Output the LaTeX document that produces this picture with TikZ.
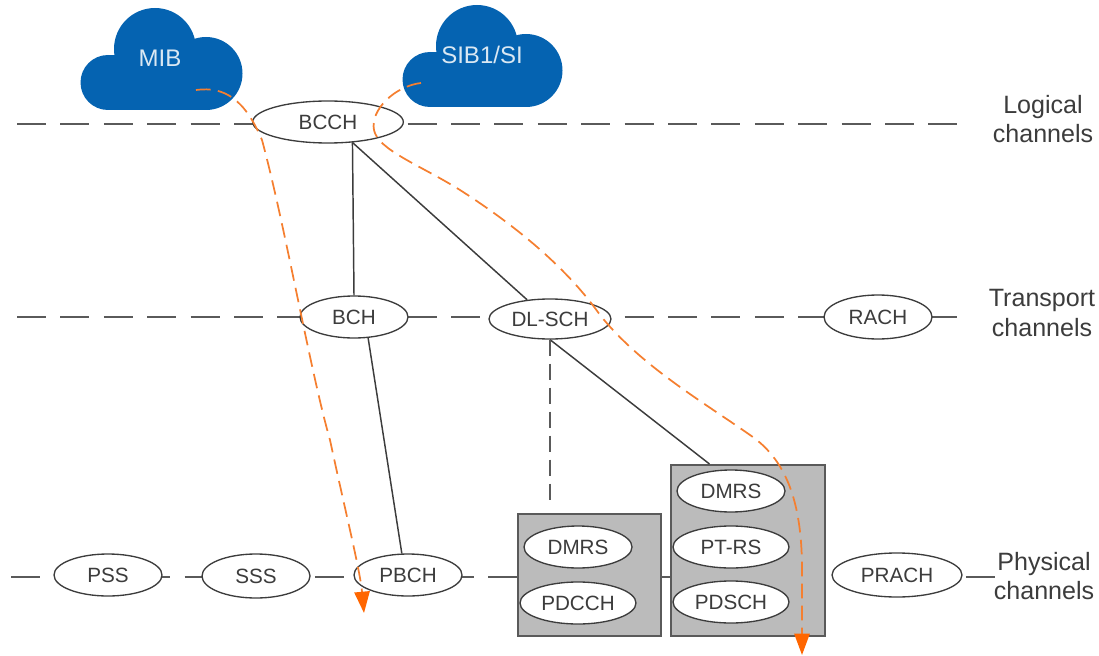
\documentclass[tikz,border=0pt]{standalone}
\usepackage{fontspec}
\setmainfont{Liberation Sans}
\usetikzlibrary{shapes.geometric,arrows.meta}
\definecolor{cloudblue}{HTML}{0563B1}
\definecolor{flow}{HTML}{F57F30}
\definecolor{tip}{HTML}{FF6600}
\definecolor{linegray}{HTML}{5A5A5A}
\definecolor{boxgray}{HTML}{BBBBBB}
\definecolor{inkgray}{HTML}{3C3C3C}
\tikzset{
  chan/.style={draw=inkgray,fill=white,ellipse,line width=1pt,inner sep=0pt,text=inkgray,font=\fontsize{15.5}{18}\selectfont},
  bus/.style={draw=linegray,line width=1.8pt,dash pattern=on 21.7pt off 10.85pt},
  stack/.style={draw=linegray,fill=boxgray,line width=1.5pt,inner sep=0pt,anchor=north west},
  link/.style={draw=inkgray,line width=1.1pt},
  linkd/.style={draw=linegray,line width=2.2pt,dash pattern=on 12pt off 6pt},
  flowline/.style={draw=flow,line width=1.3pt,dash pattern=on 11pt off 5.5pt,-{Triangle[length=16pt,width=11.5pt,color=tip]}},
  lab/.style={align=center,text=inkgray,font=\fontsize{18.8}{22}\selectfont,inner sep=0pt},
  cloudtext/.style={text=white!85!cloudblue,font=\fontsize{18}{20}\selectfont,inner sep=0pt},
  cloudfill/.style={fill=cloudblue,draw=none}
}
\begin{document}
\begin{tikzpicture}[x=0.75pt,y=-0.75pt]
\useasboundingbox (0,0) rectangle (1099,656);
% clouds
\fill[cloudfill] (108,82.5) circle[radius=27.5];
\fill[cloudfill] (155,49) circle[radius=41];
\fill[cloudfill] (206,73.5) circle[radius=36.5];
\fill[cloudfill] (108,55) rectangle (206,110);
\fill[cloudfill] (430,79.5) circle[radius=27.5];
\fill[cloudfill] (477,46) circle[radius=41];
\fill[cloudfill] (526,70.5) circle[radius=36.5];
\fill[cloudfill] (430,52) rectangle (526,107);
\node[cloudtext] (mib) at (160,58) {MIB};
\node[cloudtext] (sib) at (482,55) {SIB1/SI};
% buses
\coordinate (la) at (17,124); \coordinate (lb) at (958,124);
\coordinate (ta) at (17,317); \coordinate (tb) at (958,317);
\coordinate (pa) at (11,577); \coordinate (pb) at (995,577);
\draw[bus] (la) -- (lb);
\draw[bus] (ta) -- (tb);
\draw[bus] (pa) -- (pb);
% stacks
\node[stack,minimum width=107.25pt,minimum height=91.5pt] (lbox) at (517,513) {};
\node[stack,minimum width=115.5pt,minimum height=128.25pt] (rbox) at (670,464) {};
% channels
\node[chan,minimum width=113pt,minimum height=31.5pt] (bcch) at (328,122) {BCCH};
\node[chan,minimum width=81pt,minimum height=31.5pt] (bch) at (354,317) {BCH};
\node[chan,minimum width=91.5pt,minimum height=30pt] (dlsch) at (550,319) {DL-SCH};
\node[chan,minimum width=81pt,minimum height=33pt] (rach) at (878,317) {RACH};
\node[chan,minimum width=81pt,minimum height=31.5pt] (pss) at (108,575) {PSS};
\node[chan,minimum width=81pt,minimum height=33pt] (sss) at (256,576) {SSS};
\node[chan,minimum width=81pt,minimum height=31.5pt] (pbch) at (408,575) {PBCH};
\node[chan,minimum width=81pt,minimum height=31.5pt] (dmrsa) at (578,547) {DMRS};
\node[chan,minimum width=87pt,minimum height=31.5pt] (pdcch) at (578,603) {PDCCH};
\node[chan,minimum width=81pt,minimum height=31.5pt] (dmrsb) at (731,491) {DMRS};
\node[chan,minimum width=87pt,minimum height=31.5pt] (ptrs) at (731,547) {PT-RS};
\node[chan,minimum width=87pt,minimum height=31.5pt] (pdsch) at (731,602) {PDSCH};
\node[chan,minimum width=97.5pt,minimum height=33pt] (prach) at (897,575) {PRACH};
% connectors
\coordinate (dashend) at (550,505);
\draw[link] (bcch.-40) -- (bch.north);
\draw[link] (bcch.-40) -- (dlsch.140);
\draw[link] (bch.-56) -- (pbch.106);
\draw[link] (dlsch.south) -- (rbox.114.5);
\draw[linkd] (dlsch.south) -- (dashend);
% flows
\draw[flowline] (196,90) .. controls (225,86) and (245,100) .. (262,140) .. controls (285,225) and (310,370) .. (330,440) .. controls (345,510) and (360,570) .. (364,613);
\draw[flowline] (421,83) .. controls (395,86) and (370,110) .. (374,130) .. controls (378,150) and (420,165) .. (460,190) .. controls (510,222) and (565,265) .. (600,315) .. controls (640,365) and (700,400) .. (750,435) .. controls (790,462) and (802,510) .. (802,570) -- (802,655);
% labels
\node[lab] (logical) at (1043,119) {Logical\\channels};
\node[lab] (transport) at (1042,313) {Transport\\channels};
\node[lab] (physical) at (1044,576) {Physical\\channels};
\end{tikzpicture}
\end{document}
